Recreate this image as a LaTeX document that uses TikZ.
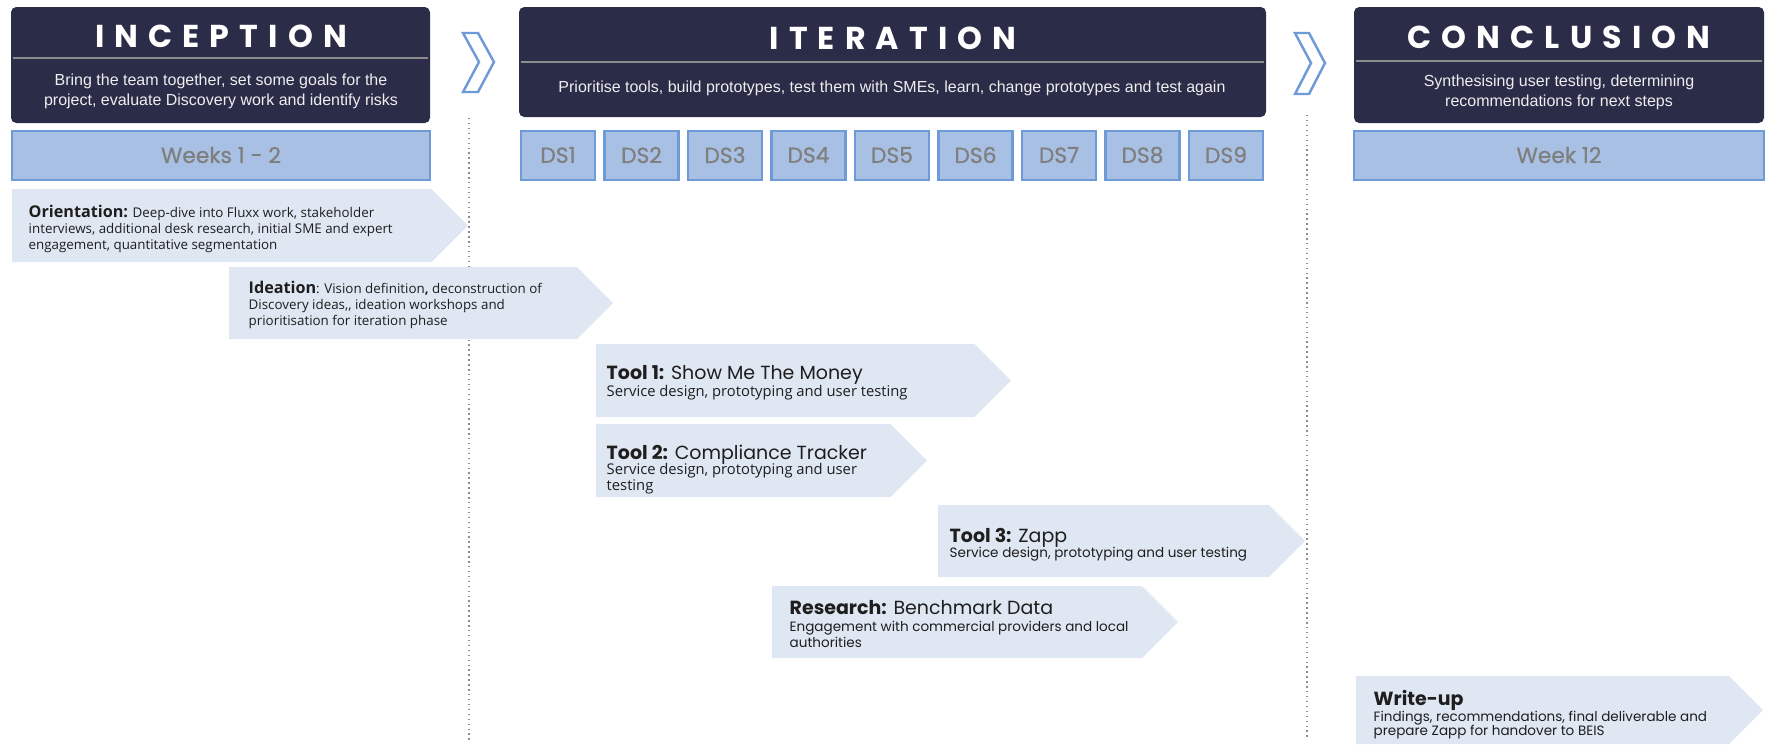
\documentclass[tikz,border=0pt]{standalone}
\usepackage{fontspec}
\setmainfont{Liberation Sans}
\newfontfamily\headfont[LetterSpace=32]{Poppins}
\newfontfamily\geofont{Poppins}
\newfontfamily\weekfont[FakeBold=0.8]{Poppins}
\newfontfamily\humfont{Open Sans}

\definecolor{navy}{HTML}{2B2C47}
\definecolor{rulegray}{HTML}{8C8C8C}
\definecolor{weekfill}{HTML}{A8C0E4}
\definecolor{weekline}{HTML}{6E9BD8}
\definecolor{weektext}{HTML}{7F7F7F}
\definecolor{taskfill}{HTML}{DFE7F3}
\definecolor{taskink}{HTML}{1E1E1E}

\tikzset{
	phase/.style={fill=navy,rounded corners=1.5pt},
	phaserule/.style={draw=rulegray,line width=0.6pt},
	phasetitle/.style={text=white,font=\headfont\bfseries\fontsize{9}{10}\selectfont},
	phasesub/.style={text=white!92!navy,align=center,font=\fontsize{4.55}{5.7}\selectfont},
	weekbox/.style={draw=weekline,fill=weekfill,line width=0.6pt},
	weeklabel/.style={text=weektext,font=\weekfont\fontsize{6.2}{7}\selectfont},
	task/.style={fill=taskfill},
	tasktitle/.style={anchor=north west,inner sep=0pt,text=taskink,font=\geofont\fontsize{5.4}{6}\selectfont},
	tasksub/.style={anchor=north west,inner sep=0pt,align=left,text=taskink},
	chev/.style={draw=weekline,fill=white,line width=0.7pt,line join=miter},
	divider/.style={draw=rulegray,densely dotted,line width=0.4pt}
}

% arrow-shaped bar: left, tip, top, bottom
\newcommand{\taskbar}[4]{\fill[task] (#1,#3)--({#2-(#4-#3)/2},#3)--(#2,{(#3+#4)/2})--({#2-(#4-#3)/2},#4)--(#1,#4)--cycle;}

\begin{document}
\begin{tikzpicture}[x=0.01cm,y=-0.01cm]
	\useasboundingbox (0,0) rectangle (1766,744);
	
	% phase dividers
	\draw[divider] (469,118)--(469,740);
	\draw[divider] (1307,115)--(1307,738);
	
	% phase headers
	\path[phase] (11,7) rectangle (430,123);
	\draw[phaserule] (13,58)--(428,58);
	\node[phasetitle] (inctitle) at (221,36) {INCEPTION};
	\node[phasesub] (incsub) at (221,91) {Bring the team together, set some goals for the\\project, evaluate Discovery work and identify risks};
	
	\path[phase] (519,7) rectangle (1266,117);
	\draw[phaserule] (521,62)--(1264,62);
	\node[phasetitle] (itrtitle) at (893,38) {ITERATION};
	\node[phasesub] (itrsub) at (892,88) {Prioritise tools, build prototypes, test them with SMEs, learn, change prototypes and test again};
	
	\path[phase] (1354,7) rectangle (1764,123);
	\draw[phaserule] (1356,61)--(1762,61);
	\node[phasetitle] (contitle) at (1559,37) {CONCLUSION};
	\node[phasesub] (consub) at (1559,92) {Synthesising user testing, determining\\recommendations for next steps};
	
	% chevrons between phases
	\draw[chev] (463,33)--(478,33)--(494,62)--(478,92)--(463,92)--(479,62)--cycle;
	\draw[chev] (1295,33)--(1309,33)--(1325,63)--(1309,94)--(1295,94)--(1311,63)--cycle;
	
	% weeks and design sprints
	\draw[weekbox] (12,131) rectangle (430,180);
	\node[weeklabel] (weeks) at (221,155) {Weeks 1 - 2};
	\foreach \i in {1,...,9}{
		\pgfmathsetmacro\xl{521+83.5*(\i-1)}
		\draw[weekbox] (\xl,131) rectangle ++(74,49);
		\node[weeklabel] (ds\i) at (\xl+37,155) {DS\i};
	}
	\draw[weekbox] (1354,131) rectangle (1764,180);
	\node[weeklabel] (week12) at (1559,155) {Week 12};
	
	% work streams
	\taskbar{12}{468}{189}{262}
	\node[tasksub,font=\humfont\fontsize{3.8}{4.55}\selectfont] (orient) at (28,204) {{\bfseries\fontsize{4.6}{4.55}\selectfont Orientation:} Deep-dive into Fluxx work, stakeholder\\interviews, additional desk research, initial SME and expert\\engagement, quantitative segmentation};
	
	\taskbar{229}{613}{267}{339}
	\node[tasksub,font=\humfont\fontsize{3.8}{4.55}\selectfont] (ideate) at (248,280) {{\bfseries\fontsize{4.6}{4.55}\selectfont Ideation}: Vision definition{\bfseries ,} deconstruction of\\Discovery ideas,, ideation workshops and\\prioritisation for iteration phase};
	
	\taskbar{596}{1011}{344}{417}
	\node[tasktitle] (tool1) at (606,365) {{\bfseries Tool 1:} Show Me The Money};
	\node[tasksub,font=\humfont\fontsize{4.2}{4.5}\selectfont] (tool1sub) at (606,385) {Service design, prototyping and user testing};
	
	\taskbar{596}{927}{424}{497}
	\node[tasktitle] (tool2) at (606,444) {{\bfseries Tool 2:} Compliance Tracker};
	\node[tasksub,font=\humfont\fontsize{4.2}{4.5}\selectfont] (tool2sub) at (606,463) {Service design, prototyping and user\\testing};
	
	\taskbar{938}{1305}{505}{577}
	\node[tasktitle] (tool3) at (949,528) {{\bfseries Tool 3:} Zapp};
	\node[tasksub,font=\geofont\fontsize{3.85}{4.6}\selectfont] (tool3sub) at (949,546) {Service design, prototyping and user testing};
	
	\taskbar{772}{1178}{586}{658}
	\node[tasktitle] (research) at (789,600) {{\bfseries Research:} Benchmark Data};
	\node[tasksub,font=\geofont\fontsize{3.85}{4.8}\selectfont] (researchsub) at (789,620) {Engagement with commercial providers and local\\authorities};
	
	\taskbar{1356}{1763}{676}{744}
	\node[tasktitle] (writeup) at (1373,690) {\bfseries Write-up};
	\node[tasksub,font=\geofont\fontsize{3.85}{4.2}\selectfont] (writeupsub) at (1373,710) {Findings, recommendations, final deliverable and\\prepare Zapp for handover to BEIS};
\end{tikzpicture}
\end{document}
